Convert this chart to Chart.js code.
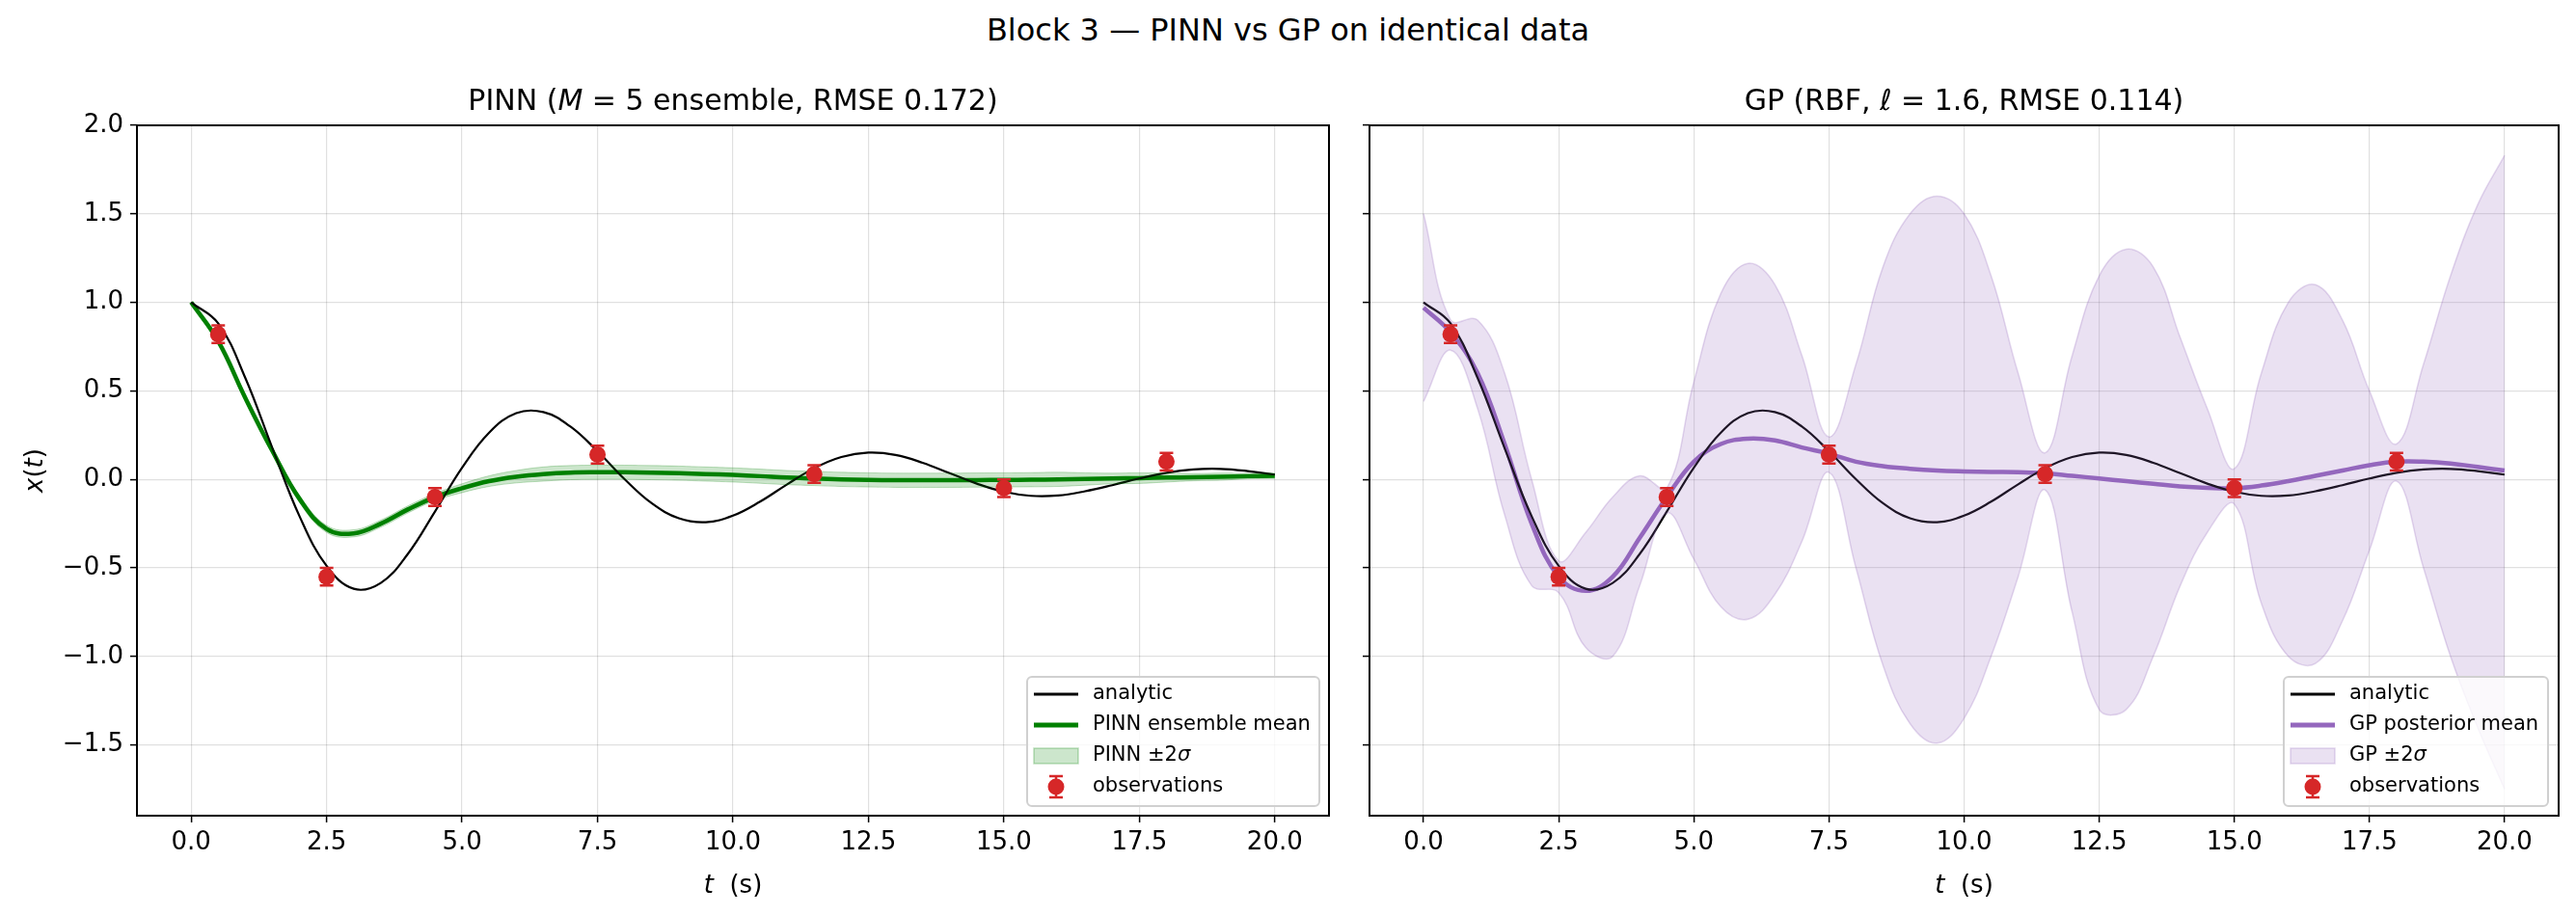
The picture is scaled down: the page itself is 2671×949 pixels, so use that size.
<!DOCTYPE html>
<html><head><meta charset="utf-8">
<script src="https://cdn.jsdelivr.net/npm/chart.js@4"></script>
<style>
body{margin:0;background:#fff;width:2671px;height:949px;overflow:hidden;position:relative;font-family:"DejaVu Sans",sans-serif}
#sup{position:absolute;left:0;width:2671px;top:12px;text-align:center;font-size:32px;color:#000}
.c{position:absolute;top:0}
</style></head><body>
<div id="sup">Block 3 — PINN vs GP on identical data</div>
<div class="c" style="left:0;width:1400px;height:949px"><canvas id="c1"></canvas></div>
<div class="c" style="left:1400px;width:1271px;height:949px"><canvas id="c2"></canvas></div>
<script>
const tGrid=[0,0.5,1,1.5,2,2.5,3,3.5,4,4.5,5,5.5,6,6.5,7,7.5,8,8.5,9,9.5,10,10.5,11,11.5,12,12.5,13,13.5,14,14.5,15,15.5,16,16.5,17,17.5,18,18.5,19,19.5,20];
const analytic=[1.0,0.881,0.573,0.176,-0.208,-0.489,-0.618,-0.585,-0.421,-0.182,0.066,0.264,0.374,0.380,0.298,0.159,0.001,-0.135,-0.220,-0.242,-0.205,-0.126,-0.028,0.063,0.126,0.151,0.138,0.094,0.035,-0.024,-0.070,-0.093,-0.091,-0.067,-0.033,0.005,0.037,0.056,0.059,0.047,0.027];
const pinnMean=[1.0,0.78,0.46,0.16,-0.11,-0.28,-0.305,-0.25,-0.17,-0.10,-0.05,-0.01,0.015,0.03,0.038,0.04,0.04,0.038,0.035,0.03,0.025,0.018,0.01,0.005,0.0,-0.003,-0.005,-0.005,-0.005,-0.004,-0.003,-0.002,0.0,0.002,0.005,0.007,0.01,0.012,0.015,0.018,0.02];
const pinnSigma2=[0.0,0.01,0.015,0.015,0.02,0.02,0.02,0.02,0.02,0.02,0.025,0.03,0.035,0.04,0.04,0.04,0.04,0.04,0.04,0.04,0.04,0.04,0.04,0.04,0.04,0.04,0.04,0.04,0.04,0.04,0.04,0.04,0.04,0.035,0.03,0.03,0.025,0.02,0.02,0.015,0.015];
const gpMean=[0.97,0.83,0.60,0.20,-0.25,-0.55,-0.63,-0.55,-0.33,-0.10,0.10,0.20,0.23,0.22,0.18,0.145,0.10,0.075,0.06,0.05,0.045,0.042,0.04,0.035,0.02,0.005,-0.01,-0.025,-0.04,-0.048,-0.05,-0.035,-0.01,0.02,0.05,0.08,0.10,0.10,0.09,0.07,0.05];
const gpUpper=[1.50,0.90,0.90,0.60,0.0,-0.46,-0.30,-0.10,0.02,-0.05,0.55,1.05,1.22,1.10,0.70,0.24,0.65,1.20,1.50,1.60,1.50,1.15,0.60,0.15,0.70,1.15,1.30,1.20,0.80,0.40,0.06,0.60,1.00,1.10,0.90,0.50,0.20,0.65,1.15,1.55,1.83];
const gpLower=[0.44,0.73,0.40,-0.20,-0.60,-0.64,-0.95,-1.00,-0.60,-0.19,-0.45,-0.72,-0.79,-0.65,-0.35,0.04,-0.50,-1.05,-1.38,-1.49,-1.35,-1.00,-0.55,-0.06,-0.75,-1.30,-1.30,-1.00,-0.60,-0.30,-0.14,-0.70,-1.00,-1.04,-0.80,-0.40,-0.01,-0.50,-1.00,-1.40,-1.75];
const obsT=[0.5,2.5,4.5,7.5,11.5,15,18];
const obsX=[0.82,-0.55,-0.10,0.14,0.03,-0.05,0.10];
const obsErr=[0.05,0.05,0.05,0.05,0.05,0.05,0.05];
const xTicks=[0,2.5,5,7.5,10,12.5,15,17.5,20];
const yTicks=[-1.5,-1,-0.5,0,0.5,1,1.5,2];

const F='"DejaVu Sans", sans-serif';
const pts=a=>tGrid.map((t,i)=>({x:t,y:a[i]}));
const RED='#d62728';

function runs(c,parts,size){let w=0;parts.forEach(p=>{c.font=(p.i?'italic ':'')+size+'px '+F;w+=c.measureText(p.s).width;});return w;}
function drawRuns(c,parts,size,x,y){parts.forEach(p=>{c.font=(p.i?'italic ':'')+size+'px '+F;c.fillText(p.s,x,y);x+=c.measureText(p.s).width;});}

function makeChart(id,opt){
  const legendItems=opt.legend;
  const deco={id:'deco',afterDatasetsDraw(ch){
    const c=ch.ctx,a=ch.chartArea,xs=ch.scales.x,ys=ch.scales.y;
    c.save();
    obsT.forEach((t,i)=>{
      const px=xs.getPixelForValue(t),py=ys.getPixelForValue(obsX[i]);
      const p1=ys.getPixelForValue(obsX[i]+obsErr[i]),p2=ys.getPixelForValue(obsX[i]-obsErr[i]);
      c.strokeStyle=RED;c.lineWidth=2.5;
      c.beginPath();c.moveTo(px,p1);c.lineTo(px,p2);c.moveTo(px-7,p1);c.lineTo(px+7,p1);c.moveTo(px-7,p2);c.lineTo(px+7,p2);c.stroke();
      c.fillStyle=RED;c.beginPath();c.arc(px,py,8.5,0,Math.PI*2);c.fill();
    });
    c.strokeStyle='#000';c.lineWidth=2;c.strokeRect(a.left,a.top,a.right-a.left,a.bottom-a.top);
    c.fillStyle='#000';c.textAlign='left';c.textBaseline='alphabetic';
    const cx=(a.left+a.right)/2;
    let w=runs(c,opt.title,30);drawRuns(c,opt.title,30,cx-w/2,114);
    const xt=[{s:'t',i:1},{s:'  (s)'}];
    w=runs(c,xt,26);drawRuns(c,xt,26,cx-w/2,926);
    if(opt.yLabels){
      c.save();c.translate(44,(a.top+a.bottom)/2);c.rotate(-Math.PI/2);
      const yt=[{s:'x',i:1},{s:'('},{s:'t',i:1},{s:')'}];
      w=runs(c,yt,26);drawRuns(c,yt,26,-w/2,0);c.restore();
    }
    const L=opt.lbox;
    c.fillStyle='rgba(255,255,255,0.8)';c.strokeStyle='#d0d0d0';c.lineWidth=2;
    c.beginPath();c.roundRect(L.x,L.y,L.w,L.h,5);c.fill();c.stroke();
    legendItems.forEach((it,k)=>{
      const yy=L.y+18+k*32;const hx=L.x+7;
      if(it.type==='line'){c.strokeStyle=it.color;c.lineWidth=it.lw;c.beginPath();c.moveTo(hx,yy);c.lineTo(hx+46,yy);c.stroke();}
      else if(it.type==='box'){c.fillStyle=it.color;c.strokeStyle=it.edge;c.lineWidth=1.5;c.fillRect(hx,yy-8,46,16);c.strokeRect(hx,yy-8,46,16);}
      else{c.strokeStyle=RED;c.lineWidth=2.5;c.beginPath();c.moveTo(hx+23,yy-11);c.lineTo(hx+23,yy+11);c.moveTo(hx+16,yy-11);c.lineTo(hx+30,yy-11);c.moveTo(hx+16,yy+11);c.lineTo(hx+30,yy+11);c.stroke();c.fillStyle=RED;c.beginPath();c.arc(hx+23,yy,8.5,0,Math.PI*2);c.fill();}
      c.fillStyle='#000';c.textBaseline='middle';
      drawRuns(c,it.text,21,L.x+68,yy);
    });
    c.restore();
  }};
  return new Chart(document.getElementById(id),{
    type:'line',
    data:{datasets:opt.datasets},
    options:{
      responsive:true,maintainAspectRatio:false,animation:false,
      devicePixelRatio:1,
      layout:{padding:{left:0,right:opt.padR,top:130,bottom:0}},
      plugins:{legend:{display:false},tooltip:{enabled:false}},
      elements:{point:{radius:0}},
      scales:{
        x:{type:'linear',min:-1,max:21,
          afterBuildTicks:s=>{s.ticks=xTicks.map(v=>({value:v}));},
          afterFit:s=>{s.height=103;},
          ticks:{font:{family:F,size:26},color:'#000',padding:6,callback:v=>v.toFixed(1)},
          grid:{color:'rgba(0,0,0,0.12)',lineWidth:1.2,tickColor:'#000',tickLength:7,tickWidth:1.5},
          border:{display:false}
        },
        y:{type:'linear',min:-1.9,max:2.0,
          afterBuildTicks:s=>{s.ticks=yTicks.map(v=>({value:v}));},
          afterFit:s=>{s.width=opt.yW;},
          ticks:{display:opt.yLabels,font:{family:F,size:26},color:'#000',padding:7,callback:v=>(v<0?'\u2212':'')+Math.abs(v).toFixed(1)},
          grid:{color:'rgba(0,0,0,0.12)',lineWidth:1.2,tickColor:'#000',tickLength:7,tickWidth:1.5},
          border:{display:false}
        }
      }
    },
    plugins:[deco]
  });
}

makeChart('c1',{
  padR:22,yW:142,yLabels:true,
  lbox:{x:1065,y:702,w:303,h:134},
  title:[{s:'PINN ('},{s:'M',i:1},{s:' = 5 ensemble, RMSE 0.172)'}],
  legend:[{type:'line',color:'#000',lw:3,text:[{s:'analytic'}]},
          {type:'line',color:'#008000',lw:5,text:[{s:'PINN ensemble mean'}]},
          {type:'box',color:'rgba(0,128,0,0.2)',edge:'rgba(0,128,0,0.25)',text:[{s:'PINN ±2'},{s:'σ',i:1}]},
          {type:'obs',text:[{s:'observations'}]}],
  datasets:[
    {data:pts(pinnMean.map((m,i)=>m+pinnSigma2[i])),borderColor:'rgba(0,128,0,0.25)',borderWidth:1,backgroundColor:'rgba(0,128,0,0.2)',fill:'+1',tension:0.4},
    {data:pts(pinnMean.map((m,i)=>m-pinnSigma2[i])),borderColor:'rgba(0,128,0,0.25)',borderWidth:1,fill:false,tension:0.4},
    {data:pts(analytic),borderColor:'#000',borderWidth:2.2,fill:false,tension:0.4},
    {data:pts(pinnMean),borderColor:'#008000',borderWidth:4.5,fill:false,tension:0.4}
  ]
});
makeChart('c2',{
  padR:18,yW:20,yLabels:false,
  lbox:{x:968,y:702,w:274,h:134},
  title:[{s:'GP (RBF, '},{s:'ℓ',i:1},{s:' = 1.6, RMSE 0.114)'}],
  legend:[{type:'line',color:'#000',lw:3,text:[{s:'analytic'}]},
          {type:'line',color:'#9467bd',lw:5,text:[{s:'GP posterior mean'}]},
          {type:'box',color:'rgba(148,103,189,0.2)',edge:'rgba(148,103,189,0.25)',text:[{s:'GP ±2'},{s:'σ',i:1}]},
          {type:'obs',text:[{s:'observations'}]}],
  datasets:[
    {data:pts(gpUpper),borderColor:'rgba(148,103,189,0.25)',borderWidth:1.5,backgroundColor:'rgba(148,103,189,0.2)',fill:'+1',tension:0.4},
    {data:pts(gpLower),borderColor:'rgba(148,103,189,0.25)',borderWidth:1.5,fill:false,tension:0.4},
    {data:pts(analytic),borderColor:'#000',borderWidth:2.2,fill:false,tension:0.4},
    {data:pts(gpMean),borderColor:'#9467bd',borderWidth:4.5,fill:false,tension:0.4}
  ]
});
</script></body></html>
